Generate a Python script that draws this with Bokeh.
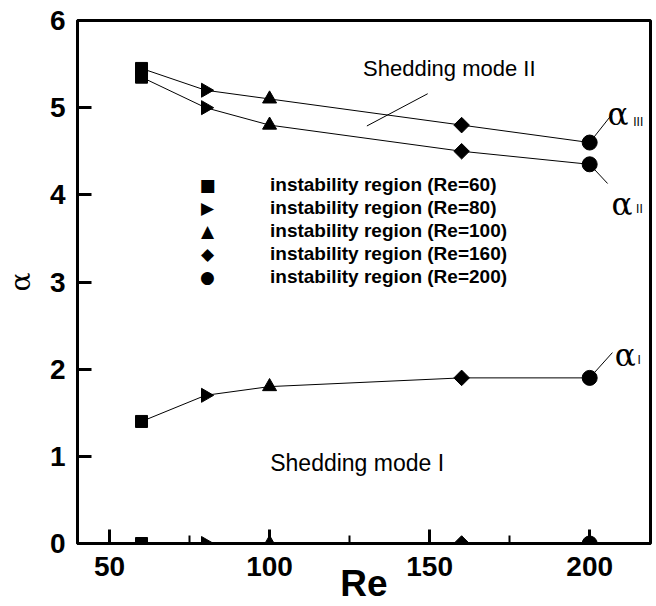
import math
from bokeh.plotting import figure
from bokeh.models import FixedTicker, Legend, LegendItem, Label, Range1d
from bokeh.embed import file_html
from bokeh.resources import INLINE

# ---- data ----
re_values = [60, 80, 100, 160, 200]
alpha_III = [5.45, 5.2, 5.1, 4.8, 4.6]
alpha_II = [5.35, 5.0, 4.8, 4.5, 4.35]
alpha_I = [1.4, 1.7, 1.8, 1.9, 1.9]
alpha_zero = [0, 0, 0, 0, 0]
legend_labels = [
    "instability region (Re=60)",
    "instability region (Re=80)",
    "instability region (Re=100)",
    "instability region (Re=160)",
    "instability region (Re=200)",
]
legend_symbols = ["■", "▶", "▲", "◆", "●"]
x_ticks = [50, 100, 150, 200]
x_minor_ticks = [75, 125, 175]
y_ticks = [0, 1, 2, 3, 4, 5, 6]

# ---- styles ----
SANS = "Liberation Sans"
SERIF = "DejaVu Serif"
marker_styles = [
    ("square", 0.0, 12),
    ("triangle", -math.pi / 2, 14),
    ("triangle", 0.0, 14),
    ("square", math.pi / 4, 11),
    ("circle", 0.0, 15),
]

p = figure(width=656, height=606, output_backend="svg", toolbar_location=None,
           x_range=Range1d(40, 219), y_range=Range1d(0, 6),
           min_border_left=77, min_border_right=6, min_border_top=20, min_border_bottom=63)
p.grid.visible = False
p.outline_line_color = "black"
p.outline_line_width = 3
p.background_fill_color = "white"
p.border_fill_color = "white"

for ax in (p.xaxis[0], p.yaxis[0]):
    ax.axis_line_width = 3
    ax.major_tick_line_width = 3
    ax.minor_tick_line_width = 2
    ax.major_tick_out = 0
    ax.minor_tick_out = 0
    ax.major_tick_in = 14
    ax.major_label_text_font = SANS
    ax.major_label_text_font_style = "bold"
    ax.major_label_text_font_size = "28px"
    ax.major_label_text_color = "black"
    ax.axis_label_text_color = "black"

p.xaxis.ticker = FixedTicker(ticks=x_ticks, minor_ticks=x_minor_ticks)
p.xaxis.minor_tick_in = 8
p.xaxis.major_label_standoff = 13
p.xaxis.axis_label = "Re"
p.xaxis.axis_label_text_font = SANS
p.xaxis.axis_label_text_font_style = "bold"
p.xaxis.axis_label_text_font_size = "37px"
p.xaxis.axis_label_standoff = -16

p.yaxis.ticker = FixedTicker(ticks=y_ticks, minor_ticks=[])
p.yaxis.minor_tick_in = 0
p.yaxis.major_label_standoff = 12
p.yaxis.axis_label = "α"
p.yaxis.axis_label_text_font = SERIF
p.yaxis.axis_label_text_font_style = "normal"
p.yaxis.axis_label_text_font_size = "28px"
p.yaxis.axis_label_standoff = 10

# curves
for series in (alpha_III, alpha_II, alpha_I):
    p.line(re_values, series, line_color="black", line_width=1)

# leader lines (annotation positions)
leaders = [
    (re_values[4], alpha_III[4], 207.1, 4.93),
    (re_values[4], alpha_II[4], 205.6, 4.13),
    (re_values[4], alpha_I[4], 207.1, 2.19),
    (130.4, 4.79, 149.4, 5.16),
]
for x0, y0, x1, y1 in leaders:
    p.segment(x0=[x0], y0=[y0], x1=[x1], y1=[y1], line_color="black", line_width=1)

# markers, one renderer per Reynolds number
items = []
for i, re in enumerate(re_values):
    marker, angle, size = marker_styles[i]
    ys = [alpha_III[i], alpha_II[i], alpha_I[i], alpha_zero[i]]
    r = p.scatter([re] * len(ys), ys, marker=marker, angle=angle, size=size,
                  fill_color="black", line_color="black")
    items.append(LegendItem(label=legend_labels[i], renderers=[r]))

# legend: text from Bokeh's Legend, key symbols drawn as text (rotated markers
# are not supported inside legend keys)
ROW = 23
LEG_X = 130          # key centre, px from frame left
LEG_TOP = 153        # px from frame top
FRAME_H = 523
legend = Legend(items=items, location=(LEG_X, FRAME_H - LEG_TOP - ROW * len(items)),
                margin=0, padding=0, glyph_width=0, glyph_height=ROW, label_height=ROW,
                spacing=0, label_standoff=63, label_text_font=SANS,
                label_text_font_style="bold", label_text_font_size="19px",
                label_text_color="black",
                border_line_color=None, background_fill_alpha=0)
p.add_layout(legend)
for k, sym in enumerate(legend_symbols):
    p.add_layout(Label(x=LEG_X, y=FRAME_H - LEG_TOP - ROW * k - ROW / 2,
                       x_units="screen", y_units="screen", text=sym,
                       text_font="DejaVu Sans", text_font_size="17px",
                       text_align="center", text_baseline="middle", text_color="black"))

# text annotations
def add_label(x, y, text, font, size):
    p.add_layout(Label(x=x, y=y, text=text, text_font=font, text_font_size=size,
                       text_baseline="alphabetic", text_align="left", text_color="black"))

add_label(129.2, 5.45, "Shedding mode II", SANS, "22px")
add_label(100.2, 0.92, "Shedding mode I", SANS, "23px")
add_label(205.6, 4.93, "α", SERIF, "31px")
add_label(213.6, 4.83, "III", SANS, "12px")
add_label(206.8, 3.90, "α", SERIF, "31px")
add_label(214.5, 3.84, "II", SANS, "12px")
add_label(207.8, 2.16, "α", SERIF, "31px")
add_label(214.9, 2.10, "I", SANS, "12px")

open("out.html", "w").write(file_html(p, INLINE))
